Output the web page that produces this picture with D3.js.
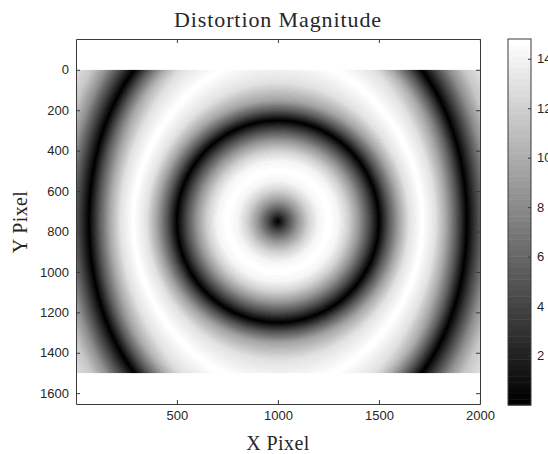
<!DOCTYPE html>
<html>
<head>
<meta charset="utf-8">
<script src="https://cdn.jsdelivr.net/npm/d3@7"></script>
<style>
  body { margin: 0; background: #fff; }
  svg { display: block; }
</style>
</head>
<body>
<svg id="chart" width="548" height="454"></svg>
<script>
// Sensor geometry (pixels) and optical centre
const imageSize = [2000, 1500];
const opticalCentre = [1000, 750];

// Radial profile of the distortion magnitude (effective radius in pixels -> magnitude)
const profileRadius    = [0, 50, 100, 150, 200, 250, 300, 350, 400, 450, 500,
                          550, 600, 650, 715, 780, 830, 880, 935,
                          990, 1040, 1100, 1180, 1260];
const profileMagnitude = [0, 4.6, 8.7, 12.0, 14.1, 14.8, 14.1, 12.0, 8.7, 4.6, 0,
                          5.2, 9.5, 13.0, 14.8, 13.0, 9.8, 5.5, 0,
                          4.4, 8.2, 11.5, 13.2, 14.0];

// Vertical stretch of the outer rings (radius in pixels -> relative stretch along y)
const stretchRadius = [0, 600, 900, 1300];
const stretchAmount = [0, 0, 0.2, 0.2];

// Colour limits and tick labels
const colorLimits = [0, 14.8];
const xTicks = [500, 1000, 1500, 2000];
const yTicks = [0, 200, 400, 600, 800, 1000, 1200, 1400, 1600];
const colorTicks = [2, 4, 6, 8, 10, 12, 14];

const svg = d3.select("#chart");
const axisColor = "#3a3a3a";
const textColor = "#262626";
const fmt = d3.format("d");

// Axes: equal data aspect, y pointing down
const x = d3.scaleLinear().domain([0.5, 2000.5]).range([76, 480]);
const y = d3.scaleLinear().domain([-152.5, 1653.5]).range([39, 404]);

// Magnitude along the radius and the 64-step gray colormap
const magnitudeAt = d3.scaleLinear().domain(profileRadius).range(profileMagnitude).clamp(true);
const stretchAt = d3.scaleLinear().domain(stretchRadius).range(stretchAmount).clamp(true);
const nLevels = 64;
const grayLevels = d3.range(nLevels).map(i => Math.round(255 * i / (nLevels - 1)));
const gray = d3.scaleQuantize().domain(colorLimits).range(grayLevels);

// Raster of the magnitude field
const px0 = x(0.5), px1 = x(imageSize[0] + 0.5);
const py0 = y(0.5), py1 = y(imageSize[1] + 0.5);
const cw = Math.round(px1 - px0), ch = Math.round(py1 - py0);
const canvas = document.createElement("canvas");
canvas.width = cw; canvas.height = ch;
const ctx = canvas.getContext("2d");
const img = ctx.createImageData(cw, ch);
for (let j = 0; j < ch; j++) {
  const dy = y.invert(py0 + (j + 0.5) * (py1 - py0) / ch) - opticalCentre[1];
  for (let i = 0; i < cw; i++) {
    const dx = x.invert(px0 + (i + 0.5) * (px1 - px0) / cw) - opticalCentre[0];
    const r = Math.hypot(dx, dy);
    const sin2 = r > 0 ? (dy * dy) / (r * r) : 0;
    const rEff = r / (1 + stretchAt(r) * sin2);
    const g = gray(magnitudeAt(rEff));
    const k = 4 * (j * cw + i);
    img.data[k] = img.data[k + 1] = img.data[k + 2] = g;
    img.data[k + 3] = 255;
  }
}
ctx.putImageData(img, 0, 0);
svg.append("image")
  .attr("href", canvas.toDataURL())
  .attr("x", px0).attr("y", py0)
  .attr("width", px1 - px0).attr("height", py1 - py0)
  .attr("preserveAspectRatio", "none");

// Axes frame with inward ticks on all four sides
function styleAxis(g) {
  g.selectAll(".domain").attr("stroke", axisColor).attr("stroke-width", 1);
  g.selectAll(".tick line").attr("stroke", axisColor).attr("stroke-width", 1);
  g.selectAll(".tick text").attr("fill", textColor)
    .style("font-family", "'Liberation Sans', Arial, sans-serif").style("font-size", "13px");
}
svg.append("g").attr("transform", "translate(0,404)")
  .call(d3.axisBottom(x).tickValues(xTicks).tickFormat(fmt).tickSize(-4).tickSizeOuter(0).tickPadding(7))
  .call(styleAxis);
svg.append("g").attr("transform", "translate(0,39)")
  .call(d3.axisTop(x).tickValues(xTicks).tickSize(-4).tickSizeOuter(0).tickFormat(""))
  .call(styleAxis);
svg.append("g").attr("transform", "translate(76,0)")
  .call(d3.axisLeft(y).tickValues(yTicks).tickFormat(fmt).tickSize(-4).tickSizeOuter(0).tickPadding(7))
  .call(styleAxis);
svg.append("g").attr("transform", "translate(480,0)")
  .call(d3.axisRight(y).tickValues(yTicks).tickSize(-4).tickSizeOuter(0).tickFormat(""))
  .call(styleAxis);

// Colorbar
const cb = { x0: 508, x1: 531 };
const c = d3.scaleLinear().domain(colorLimits).range([405, 39]);
const step = (colorLimits[1] - colorLimits[0]) / nLevels;
svg.append("g").selectAll("rect")
  .data(grayLevels)
  .join("rect")
  .attr("x", cb.x0).attr("width", cb.x1 - cb.x0)
  .attr("y", (d, i) => c(colorLimits[0] + (i + 1) * step))
  .attr("height", (d, i) => c(colorLimits[0] + i * step) - c(colorLimits[0] + (i + 1) * step) + 0.5)
  .attr("fill", d => `rgb(${d},${d},${d})`);
svg.append("rect")
  .attr("x", cb.x0).attr("y", 39).attr("width", cb.x1 - cb.x0).attr("height", 366)
  .attr("fill", "none").attr("stroke", axisColor).attr("stroke-width", 1);
svg.append("g").attr("transform", `translate(${cb.x1},0)`)
  .call(d3.axisRight(c).tickValues(colorTicks).tickFormat(fmt).tickSize(-3).tickSizeOuter(0).tickPadding(6))
  .call(styleAxis)
  .call(g => g.select(".domain").remove());

// Titles
const serif = "'Liberation Serif', 'Times New Roman', serif";
svg.append("text")
  .attr("x", 278).attr("y", 27)
  .attr("text-anchor", "middle")
  .style("font-family", serif).style("font-size", "22px").style("letter-spacing", "0.9px")
  .attr("fill", textColor)
  .text("Distortion Magnitude");
svg.append("text")
  .attr("x", 278).attr("y", 450)
  .attr("text-anchor", "middle")
  .style("font-family", serif).style("font-size", "20px").style("letter-spacing", "0.4px")
  .attr("fill", textColor)
  .text("X Pixel");
svg.append("text")
  .attr("transform", "translate(27,222) rotate(-90)")
  .attr("text-anchor", "middle")
  .style("font-family", serif).style("font-size", "20px").style("letter-spacing", "0.4px")
  .attr("fill", textColor)
  .text("Y Pixel");
</script>
</body>
</html>
